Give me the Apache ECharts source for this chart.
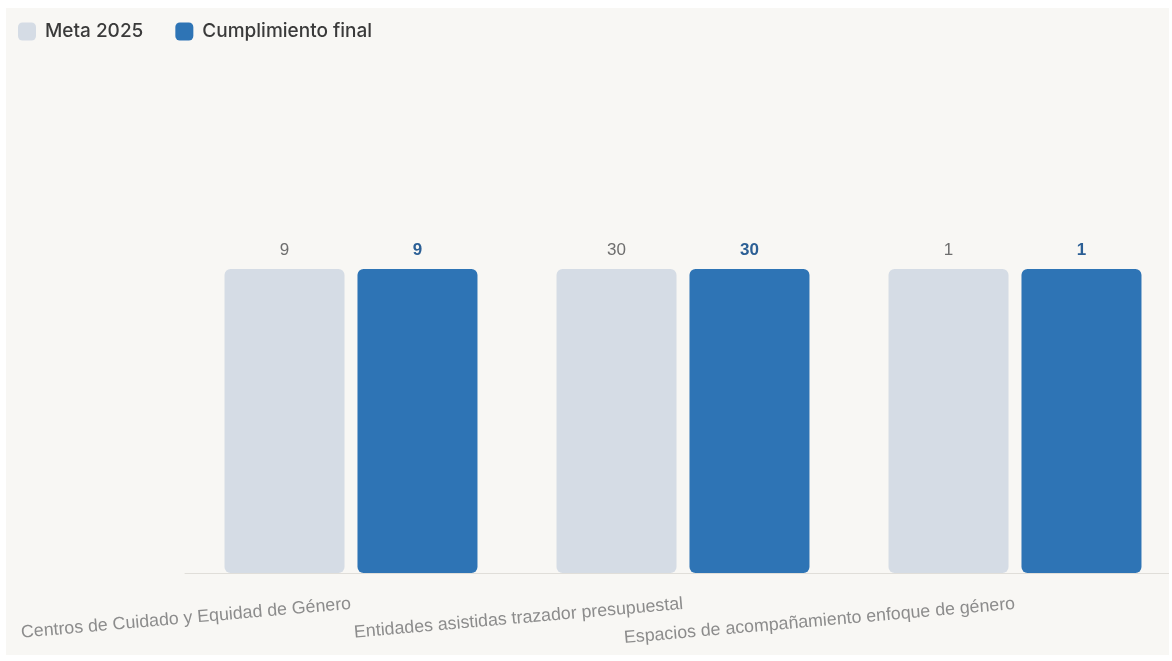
<!DOCTYPE html>
<html>
<head>
<meta charset="utf-8">
<script src="https://cdn.jsdelivr.net/npm/echarts@6/dist/echarts.min.js"></script>
<style>
  html, body { margin: 0; padding: 0; background: #ffffff; overflow: hidden; }
  #frame { position: absolute; left: 6px; top: 8px; width: 1163px; height: 647px; background: #f8f7f4; overflow: hidden; }
  #chart { position: absolute; left: 0; top: 0; width: 1200px; height: 647px; }
</style>
</head>
<body>
<div id="frame"><div id="chart"></div></div>
<script>
// Indicators and their values
const categories = [
  'Centros de Cuidado y Equidad de Género',
  'Entidades asistidas trazador presupuestal',
  'Espacios de acompañamiento enfoque de género'
];
const metaName = 'Meta 2025';
const cumplName = 'Cumplimiento final';
const meta2025 = [9, 30, 1];
const cumplimiento = [9, 30, 1];

// Each indicator gets its own panel scaled to its own goal
const bandLeft = 179, bandWidth = 332, plotTop = 261, plotHeight = 304;
const grids = [], xAxes = [], yAxes = [], series = [];
const labelFont = 'Liberation Sans, Arial, sans-serif';

categories.forEach((cat, i) => {
  grids.push({ left: bandLeft + bandWidth * i, width: bandWidth, top: plotTop, height: plotHeight, containLabel: false });
  xAxes.push({
    type: 'category', gridIndex: i, data: [cat],
    axisLine: { show: true, lineStyle: { color: '#e0ded9', width: 1 } },
    axisTick: { show: false },
    axisLabel: { rotate: 5, margin: 31, fontSize: 17.8, color: '#8c8c8c', fontFamily: labelFont, interval: 0 }
  });
  yAxes.push({
    type: 'value', gridIndex: i, min: 0, max: Math.max(meta2025[i], cumplimiento[i]),
    show: false, splitLine: { show: false }
  });
  series.push({
    name: metaName, type: 'bar', xAxisIndex: i, yAxisIndex: i,
    data: [meta2025[i]], barWidth: 120, barGap: '10.8%',
    itemStyle: { color: '#d5dce5', borderRadius: 6 },
    label: { show: true, position: 'top', distance: 10, color: '#6e6e6e', fontSize: 17, fontWeight: 500, fontFamily: labelFont },
    emphasis: { disabled: true }
  });
  series.push({
    name: cumplName, type: 'bar', xAxisIndex: i, yAxisIndex: i,
    data: [cumplimiento[i]], barWidth: 120, barGap: '10.8%',
    itemStyle: { color: '#2e74b5', borderRadius: 6 },
    label: { show: true, position: 'top', distance: 10, color: '#2b5f95', fontSize: 17, fontWeight: 600, fontFamily: labelFont },
    emphasis: { disabled: true }
  });
});

const chart = echarts.init(document.getElementById('chart'), null, { renderer: 'canvas' });
chart.setOption({
  backgroundColor: 'transparent',
  animation: false,
  legend: {
    left: 12, top: 14, padding: 0,
    itemWidth: 18, itemHeight: 18, itemGap: 32,
    icon: 'roundRect',
    textStyle: { fontSize: 19, color: '#3a3a3a', fontWeight: 500, fontFamily: 'Inter, sans-serif', padding: [0, 0, 0, 4] },
    data: [metaName, cumplName]
  },
  grid: grids,
  xAxis: xAxes,
  yAxis: yAxes,
  series: series
});
</script>
</body>
</html>
